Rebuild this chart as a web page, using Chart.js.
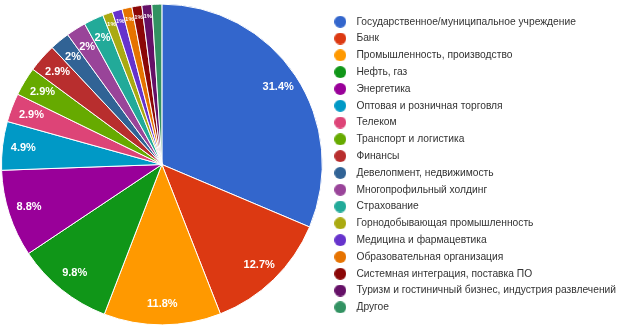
<!DOCTYPE html>
<html>
<head>
<meta charset="utf-8">
<script src="https://cdn.jsdelivr.net/npm/chart.js@4"></script>
<style>
  html, body { margin: 0; padding: 0; background: #fff; }
  #wrap { width: 620px; height: 329px; position: relative; }
</style>
</head>
<body>
<div id="wrap"><canvas id="pieChart" width="620" height="329"></canvas></div>
<script>
const categories = [
  'Государственное/муниципальное учреждение',
  'Банк',
  'Промышленность, производство',
  'Нефть, газ',
  'Энергетика',
  'Оптовая и розничная торговля',
  'Телеком',
  'Транспорт и логистика',
  'Финансы',
  'Девелопмент, недвижимость',
  'Многопрофильный холдинг',
  'Страхование',
  'Горнодобывающая промышленность',
  'Медицина и фармацевтика',
  'Образовательная организация',
  'Системная интеграция, поставка ПО',
  'Туризм и гостиничный бизнес, индустрия развлечений',
  'Другое'
];
const shares = [31.4, 12.7, 11.8, 9.8, 8.8, 4.9, 2.9, 2.9, 2.9, 2, 2, 2, 1, 1, 1, 1, 1, 1];
const shareLabels = ['31.4%', '12.7%', '11.8%', '9.8%', '8.8%', '4.9%', '2.9%', '2.9%', '2.9%',
  '2%', '2%', '2%', '1%', '1%', '1%', '1%', '1%', ''];
const colors = ['#3366cc', '#dc3912', '#ff9900', '#109618', '#990099', '#0099c6', '#dd4477',
  '#66aa00', '#b82e2e', '#316395', '#994499', '#22aa99', '#aaaa11', '#6633cc', '#e67300',
  '#8b0707', '#651067', '#329262'];

// small round markers for the legend (one canvas per colour)
function dot(color) {
  const c = document.createElement('canvas');
  c.width = 12; c.height = 12;
  const g = c.getContext('2d');
  g.fillStyle = color;
  g.beginPath();
  g.arc(6, 6, 6, 0, Math.PI * 2);
  g.fill();
  return c;
}
const dots = colors.map(dot);

// percentage labels inside the slices
const sliceLabels = {
  id: 'sliceLabels',
  afterDatasetsDraw(chart) {
    const ctx = chart.ctx;
    const meta = chart.getDatasetMeta(0);
    ctx.save();
    ctx.fillStyle = '#fff';
    ctx.textAlign = 'center';
    ctx.textBaseline = 'middle';
    meta.data.forEach((arc, i) => {
      const txt = shareLabels[i];
      if (!txt) return;
      const mid = (arc.startAngle + arc.endAngle) / 2;
      const small = shares[i] < 1.5;
      const r = arc.outerRadius * (small ? 0.93 : 0.87);
      ctx.font = 'bold ' + (small ? 6 : 11) + 'px "Liberation Sans", Arial, sans-serif';
      ctx.fillText(txt, arc.x + Math.cos(mid) * r, arc.y + Math.sin(mid) * r);
    });
    ctx.restore();
  }
};

new Chart(document.getElementById('pieChart'), {
  type: 'pie',
  data: {
    labels: categories,
    datasets: [{
      data: shares,
      backgroundColor: colors,
      borderColor: '#ffffff',
      borderWidth: 1
    }]
  },
  options: {
    responsive: false,
    animation: false,
    devicePixelRatio: 1,
    layout: { padding: { left: 1, right: -6, top: 0, bottom: 0 } },
    plugins: {
      legend: {
        position: 'right',
        align: 'center',
        labels: {
          usePointStyle: true,
          pointStyleWidth: 22,
          boxHeight: 10,
          padding: 6.55,
          color: '#333',
          font: { family: '"Liberation Sans", Arial, sans-serif', size: 10.25 },
          generateLabels(chart) {
            const items = Chart.overrides.pie.plugins.legend.labels.generateLabels(chart);
            items.forEach((it, i) => { it.pointStyle = dots[i]; });
            return items;
          }
        }
      },
      tooltip: { enabled: false }
    }
  },
  plugins: [sliceLabels]
});
</script>
</body>
</html>
